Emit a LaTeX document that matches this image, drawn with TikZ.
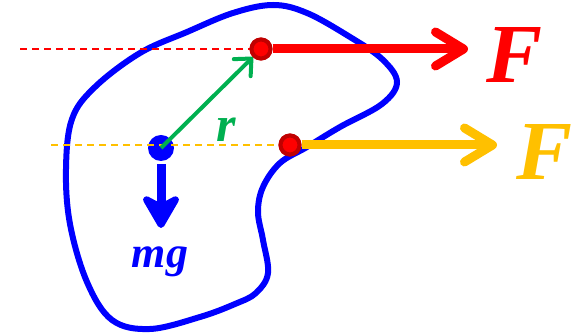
\documentclass[tikz,border=0pt]{standalone}
\usepackage{fontspec}
\setmainfont{Liberation Serif}
\usetikzlibrary{arrows.meta}
\definecolor{fred}{HTML}{FF0000}
\definecolor{fring}{HTML}{C00000}
\definecolor{fyel}{HTML}{FFC000}
\definecolor{rgreen}{HTML}{00B050}
\definecolor{bblue}{HTML}{0000FF}
\begin{document}
\begin{tikzpicture}[
    x=1pt, y=1pt,
    dot/.style={
        circle,
        draw=fring,
        fill=fred,
        line width=4pt,
        inner sep=0pt,
        minimum size=19pt
    },
    cmdot/.style={
        circle,
        fill=bblue,
        inner sep=0pt,
        minimum size=26pt
    },
    force/.style={
        draw,
        line width=9pt,
        -{Straight Barb[round, length=28pt, width=34pt]}
    },
    guide/.style={
        draw,
        line width=1.6pt,
        dash pattern=on 7pt off 5pt
    },
    lbl/.style={
        font=\bfseries\itshape,
        inner sep=0pt
    }
]
    \useasboundingbox (0,0) rectangle (574,334);

    % --- Body outline ---
    \draw [bblue, line width=6pt] plot [smooth cycle, tension=0.6] coordinates {
        (233,321) (273,329) (307,321) (350,297) (382,275) (397,252)
        (382,230) (340,207) (307,187) (280,171) (263,147)
        (258,122) (263,94) (268,61) (256,41) (235,30) (200,17)
        (150,5) (112,14) (87,52) (70,110) (66,165) (72,215)
        (95,247) (140,281) (187,302)};

    % --- Points ---
    \node [cmdot] (cm) at (161,186) {};
    \node [dot] (pa) at (261,285) {};
    \node [dot] (pb) at (290,189) {};

    \coordinate (ga) at (20,285);
    \coordinate (gb) at (51,189);
    \coordinate (ta) at (468,285);
    \coordinate (tb) at (497,189);
    \coordinate (tw) at (161,106);

    % --- Lines of action ---
    \path [guide, fred] (ga) -- (pa.west);
    \path [guide, fyel] (gb) -- (pb.west);

    % --- Forces ---
    \path [force, fred] (pa.east) -- (ta);
    \path [force, fyel] (pb.east) -- (tb);
    \path [draw, bblue, line width=9pt,
        -{Stealth[round, length=40pt, width=46pt, inset=12pt]}] (cm.south) ++(0,-3) -- (tw);

    % re-draw dots over shafts
    \node [dot] at (pa) {};
    \node [dot] at (pb) {};

    % --- Position vector ---
    \draw [rgreen, line width=4pt, -{Straight Barb[round, length=13pt, width=24pt]}]
        (cm.center) -- (pa.south west);

    % --- Labels ---
    \node [lbl, text=fred, font=\fontsize{84}{84}\selectfont\bfseries\itshape] (fa) at (515,279) {F};
    \node [lbl, text=fyel, font=\fontsize{84}{84}\selectfont\bfseries\itshape] (fb) at (545,182) {F};
    \node [lbl, text=rgreen, font=\fontsize{50}{50}\selectfont\bfseries\itshape] (rv) at (226,204) {r};
    \node [lbl, text=bblue, font=\fontsize{44}{44}\selectfont\bfseries\itshape] (mg) at (160,72) {mg};

\end{tikzpicture}
\end{document}
